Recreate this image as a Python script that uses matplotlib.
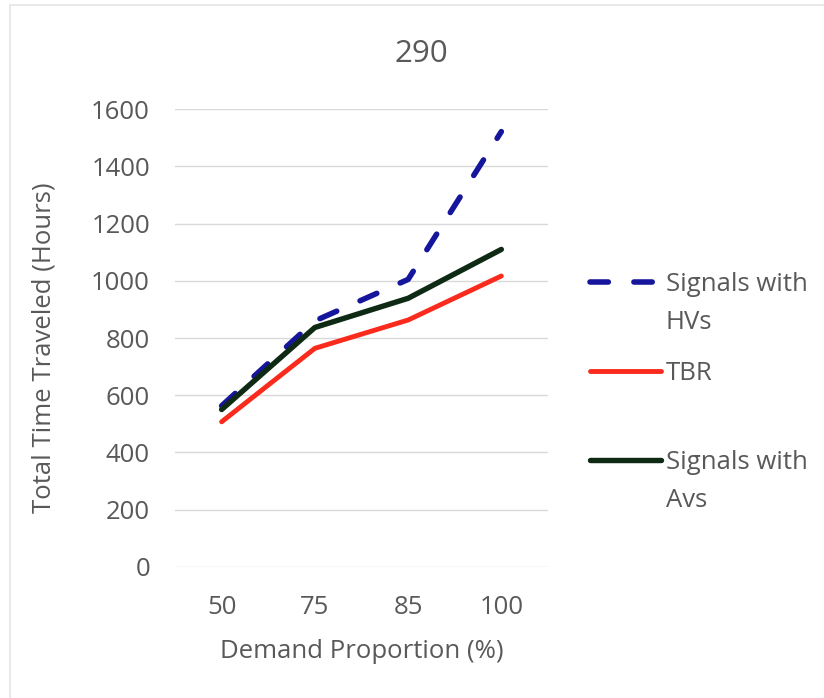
import matplotlib.pyplot as plt
from matplotlib.patches import Rectangle

# demand levels and total time traveled per strategy
demand = ["50", "75", "85", "100"]
signals_hv = [563, 860, 1005, 1522]
tbr = [507, 764, 863, 1017]
signals_av = [550, 837, 939, 1110]
yticks = [0, 200, 400, 600, 800, 1000, 1200, 1400, 1600]

# legend labels are split so the handle sits on the first line
legend_first = ["Signals with", "TBR", "Signals with"]
legend_second = ["HVs", "", "Avs"]

plt.rcParams["font.family"] = ["Open Sans", "DejaVu Sans"]
text_col = "#595959"
fs = 18.5

fig = plt.figure(figsize=(8.24, 6.98), dpi=100)
fig.patches.append(Rectangle((0.012, -0.01), 1.0, 1.003, transform=fig.transFigure,
                             fill=False, edgecolor="#e4e4e4", linewidth=1.2))
ax = fig.add_axes([0.2124, 0.188, 0.4526, 0.6554])

x = range(len(demand))
ax.plot(x, signals_hv, color="#16169c", linewidth=4, linestyle=(0, (3.3, 4.6)),
        dash_capstyle="round", label=legend_first[0], zorder=3)
ax.plot(x, tbr, color="#fa2a1c", linewidth=3.5, solid_capstyle="round",
        label=legend_first[1], zorder=3)
ax.plot(x, signals_av, color="#0e2a14", linewidth=3.9, solid_capstyle="round",
        label=legend_first[2], zorder=4)

ax.set_xlim(-0.5, len(demand) - 0.5)
ax.set_ylim(0, 1600)
ax.set_xticks(list(x))
ax.set_xticklabels(demand)
ax.set_yticks(yticks)
ax.yaxis.grid(True, color="#d9d9d9", linewidth=1)
ax.set_axisbelow(True)
for s in ax.spines.values():
    s.set_visible(False)
ax.tick_params(length=0, labelsize=fs, colors=text_col)
ax.tick_params(axis="y", pad=18)
ax.tick_params(axis="x", pad=20)

fig.text(0.511, 0.923, "290", fontsize=22.5, color=text_col, ha="center", va="center")
ax.set_xlabel("Demand Proportion (%)", fontsize=fs, color=text_col, labelpad=14)
ax.set_ylabel("Total Time Traveled (Hours)", fontsize=fs, color=text_col, labelpad=25)
ax.yaxis.label.set_y(0.478)

leg = ax.legend(loc="upper left", bbox_to_anchor=(1.113, 0.645), frameon=False,
                fontsize=fs, handlelength=2.75, handletextpad=0.2, borderpad=0,
                borderaxespad=0, labelspacing=2.5, labelcolor=text_col)

for txt, extra in zip(leg.get_texts(), legend_second):
    if extra:
        ax.annotate(extra, xy=(0, 0.5), xycoords=txt, xytext=(0, -27.5),
                    textcoords="offset points", ha="left", va="center",
                    fontsize=fs, color=text_col, zorder=6)

fig.savefig("out.png", dpi=100, facecolor="white")
